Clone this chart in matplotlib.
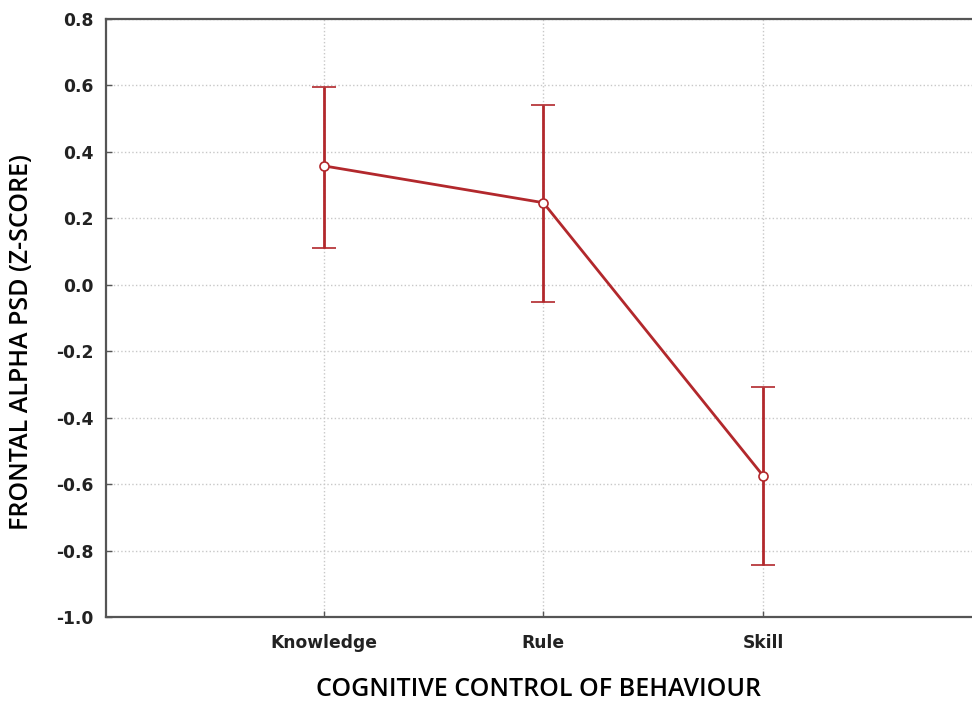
import matplotlib.pyplot as plt
import numpy as np

# Frontal alpha PSD by cognitive control level (mean with error bars)
kategorije = ['Knowledge', 'Rule', 'Skill']
srednja = [0.358, 0.247, -0.575]
gornja = [0.596, 0.542, -0.307]
donja = [0.111, -0.051, -0.843]
y_oznake = [-1.0, -0.8, -0.6, -0.4, -0.2, 0.0, 0.2, 0.4, 0.6, 0.8]

boja = '#b2282c'
x = np.arange(1, len(kategorije) + 1)
greska = [np.array(srednja) - np.array(donja), np.array(gornja) - np.array(srednja)]

fig = plt.figure(figsize=(9.72, 7.02), dpi=100)
ax = fig.add_axes([0.109, 0.121, 0.891, 0.852])

ax.errorbar(x, srednja, yerr=greska, color=boja, linewidth=2.0, elinewidth=2.0,
            capsize=8.7, capthick=2.6, marker='o', markersize=6.5,
            markerfacecolor='white', markeredgecolor=boja, markeredgewidth=1.2, zorder=3)

ax.set_xlim(0.01, 3.95)
ax.set_ylim(-1.0, 0.8)
ax.set_xticks(x)
ax.set_xticklabels(kategorije)
ax.set_yticks(y_oznake)
ax.set_yticklabels([f'{v:.1f}' for v in y_oznake])

ax.grid(True, linestyle=':', color='#c8c8c8', linewidth=1.0)
ax.set_axisbelow(True)
ax.spines['right'].set_visible(False)
for s in ['left', 'bottom', 'top']:
    ax.spines[s].set_color('#555555')
    ax.spines[s].set_linewidth(1.6)

ax.tick_params(direction='in', length=4, width=1, color='#555555', pad=9)
for lab in ax.get_xticklabels() + ax.get_yticklabels():
    lab.set_fontfamily('DejaVu Sans')
    lab.set_fontweight('bold')
    lab.set_fontsize(12.3)
    lab.set_color('#222222')
ax.tick_params(axis='x', pad=12)

ax.set_xlabel('COGNITIVE CONTROL OF BEHAVIOUR', fontfamily='Open Sans', fontweight='semibold',
              fontsize=18, labelpad=18)
ax.set_ylabel('FRONTAL ALPHA PSD (Z-SCORE)', fontfamily='Open Sans', fontweight='semibold',
              fontsize=18)
ax.yaxis.set_label_coords(-0.083, 0.46)

fig.savefig('out.png', dpi=100)
